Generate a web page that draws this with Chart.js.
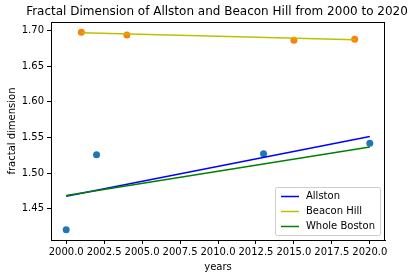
<!DOCTYPE html>
<html>
<head>
<meta charset="utf-8">
<script src="https://cdn.jsdelivr.net/npm/chart.js@4"></script>
<style>
  html, body { margin: 0; padding: 0; background: #fff; }
  #wrap { width: 415px; height: 278px; }
</style>
</head>
<body>
<div id="wrap"><canvas id="chart" width="415" height="278"></canvas></div>
<script>
// points
const allstonYears = [2000, 2002, 2013, 2020];
const allstonValues = [1.4207, 1.5258, 1.5272, 1.542];
const beaconYears = [2001, 2004, 2015, 2019];
const beaconValues = [1.6972, 1.6934, 1.686, 1.6874];

// fitted lines (end points)
const allstonFitYears = [2000, 2020];
const allstonFit = [1.4676, 1.5512];
const beaconFitYears = [2001, 2019];
const beaconFit = [1.6967, 1.6869];
const bostonFitYears = [2000, 2020];
const bostonFit = [1.4686, 1.5367];

const xTicks = [2000, 2002.5, 2005, 2007.5, 2010, 2012.5, 2015, 2017.5, 2020];
const yTicks = [1.45, 1.5, 1.55, 1.6, 1.65, 1.7];

const FONT = "'DejaVu Sans', sans-serif";

function pts(xs, ys) {
  return xs.map((x, i) => ({ x: x, y: ys[i] }));
}

// top/right spines, title and legend like matplotlib
const mplExtras = {
  id: "mplExtras",
  afterDraw(chart) {
    const ctx = chart.ctx;
    const a = chart.chartArea;
    ctx.save();
    ctx.strokeStyle = "#000";
    ctx.lineWidth = 1;
    ctx.strokeRect(Math.round(a.left) + 0.5, Math.round(a.top) + 0.5,
      Math.round(a.right - a.left) - 1, Math.round(a.bottom - a.top));

    ctx.fillStyle = "#000";
    ctx.font = "12px " + FONT;
    ctx.textAlign = "center";
    ctx.textBaseline = "middle";
    ctx.fillText("Fractal Dimension of Allston and Beacon Hill from 2000 to 2020",
      (a.left + a.right) / 2 - 1, 12);

    // legend
    const items = chart.data.datasets.filter((d) => d.showLine);
    ctx.font = "10px " + FONT;
    let maxW = 0;
    items.forEach((d) => { maxW = Math.max(maxW, ctx.measureText(d.label).width); });
    const w = 31 + maxW + 5;
    const h = 48;
    const right = a.right - 5;
    const bottom = a.bottom - 5;
    const left = right - w;
    const top = bottom - h;
    ctx.beginPath();
    ctx.roundRect(left + 0.5, top + 0.5, w, h, 2);
    ctx.fillStyle = "rgba(255,255,255,0.8)";
    ctx.fill();
    ctx.strokeStyle = "#cccccc";
    ctx.stroke();
    ctx.textAlign = "left";
    items.forEach((d, i) => {
      const y = top + 9.5 + i * 15;
      ctx.beginPath();
      ctx.moveTo(left + 6, y);
      ctx.lineTo(left + 24, y);
      ctx.strokeStyle = d.borderColor;
      ctx.lineWidth = 1.5;
      ctx.stroke();
      ctx.fillStyle = "#000";
      ctx.fillText(d.label, left + 31, y);
    });
    ctx.restore();
  },
};

new Chart(document.getElementById("chart"), {
  type: "scatter",
  data: {
    datasets: [
      {
        label: "Allston",
        data: pts(allstonFitYears, allstonFit),
        showLine: true,
        borderColor: "#0000ff",
        borderWidth: 1.5,
        pointRadius: 0,
        order: 3,
      },
      {
        label: "Beacon Hill",
        data: pts(beaconFitYears, beaconFit),
        showLine: true,
        borderColor: "#bfbf00",
        borderWidth: 1.5,
        pointRadius: 0,
        order: 2,
      },
      {
        label: "Whole Boston",
        data: pts(bostonFitYears, bostonFit),
        showLine: true,
        borderColor: "#008000",
        borderWidth: 1.5,
        pointRadius: 0,
        order: 1,
      },
      {
        label: "allston points",
        data: pts(allstonYears, allstonValues),
        showLine: false,
        backgroundColor: "#1f77b4",
        borderWidth: 0,
        pointRadius: 3.5,
        order: 5,
      },
      {
        label: "beacon points",
        data: pts(beaconYears, beaconValues),
        showLine: false,
        backgroundColor: "#ff7f0e",
        borderWidth: 0,
        pointRadius: 3.5,
        order: 4,
      },
    ],
  },
  options: {
    responsive: false,
    animation: false,
    layout: { padding: { top: 22, right: 30, left: 0, bottom: 0 } },
    plugins: {
      legend: { display: false },
      title: { display: false },
      tooltip: { enabled: false },
    },
    scales: {
      x: {
        type: "linear",
        min: 1999,
        max: 2021,
        afterBuildTicks: (scale) => { scale.ticks = xTicks.map((v) => ({ value: v })); },
        afterFit: (scale) => { scale.height = 38; },
        grid: { drawOnChartArea: false, drawTicks: true, tickLength: 4, color: "#000" },
        border: { display: true, color: "#000", width: 1 },
        ticks: {
          color: "#000",
          font: { family: FONT, size: 10 },
          padding: 2,
          maxRotation: 0,
          autoSkip: false,
          callback: (v) => Number(v).toFixed(1),
        },
        title: {
          display: true,
          text: "years",
          color: "#000",
          font: { family: FONT, size: 10 },
          padding: { top: 2, bottom: 5 },
        },
      },
      y: {
        type: "linear",
        min: 1.4064,
        max: 1.7116,
        afterBuildTicks: (scale) => { scale.ticks = yTicks.map((v) => ({ value: v })); },
        afterFit: (scale) => { scale.width = 51; },
        grid: { drawOnChartArea: false, drawTicks: true, tickLength: 4, color: "#000" },
        border: { display: true, color: "#000", width: 1 },
        ticks: {
          color: "#000",
          font: { family: FONT, size: 10 },
          padding: 3,
          autoSkip: false,
          callback: (v) => Number(v).toFixed(2),
        },
        title: {
          display: true,
          text: "fractal dimension",
          color: "#000",
          font: { family: FONT, size: 10 },
          padding: { top: 6, bottom: 0 },
        },
      },
    },
  },
  plugins: [mplExtras],
});
</script>
</body>
</html>
